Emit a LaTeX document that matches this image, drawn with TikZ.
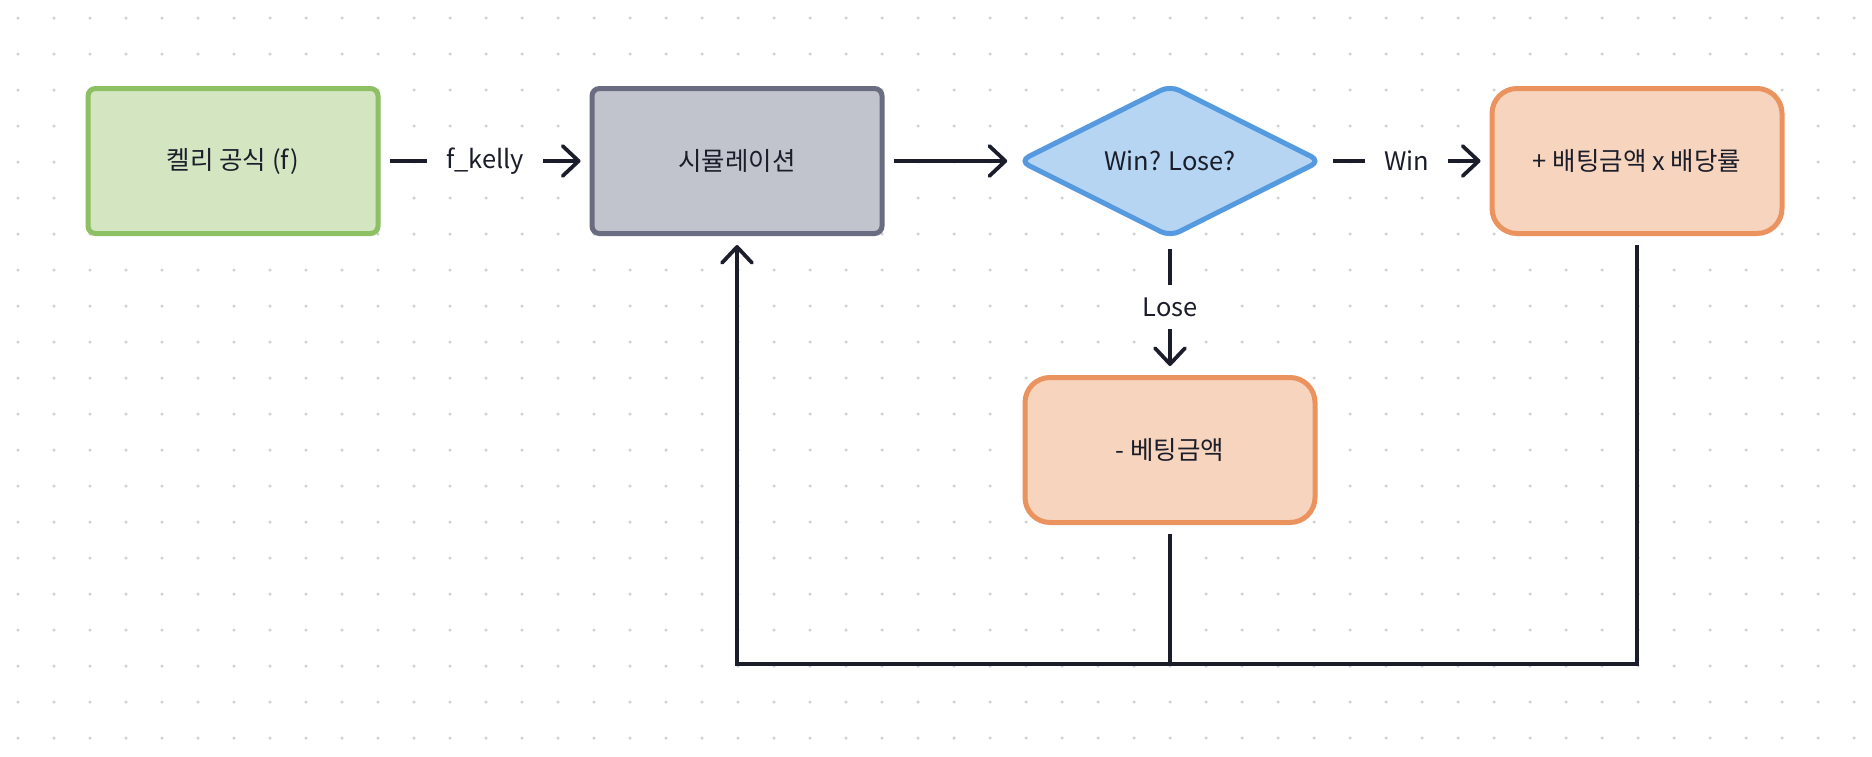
\documentclass[tikz,border=0pt]{standalone}
\usepackage{fontspec}
\setmainfont{Noto Sans CJK KR}
\usepackage{xcolor}
\usetikzlibrary{arrows.meta,shapes.geometric,positioning}

\definecolor{ink}{HTML}{1B1D2A}
\definecolor{griddot}{HTML}{D2D2D2}
\definecolor{kellyfill}{HTML}{D3E6C1}
\definecolor{kellyline}{HTML}{8CC063}
\definecolor{simfill}{HTML}{C1C4CC}
\definecolor{simline}{HTML}{6A6D82}
\definecolor{judgefill}{HTML}{B5D5F2}
\definecolor{judgeline}{HTML}{559AE1}
\definecolor{payfill}{HTML}{F6D4BD}
\definecolor{payline}{HTML}{EB935F}

\begin{document}
\begin{tikzpicture}[
  font=\fontsize{14.5}{17}\selectfont,
  box/.style={draw, line width=0.1cm, minimum width=5.8cm, minimum height=2.9cm, align=center, text=ink},
  flow/.style={line width=0.075cm, draw=ink, shorten <=0.18cm, shorten >=0.18cm},
  tip/.style={-{Straight Barb[round, length=0.32cm, width=0.6cm]}},
  lbl/.style={fill=white, inner xsep=0.38cm, inner ysep=0.25cm, text=ink}
]

% Canvas and dot grid
\useasboundingbox (0,0) rectangle (37.44,-15.12);
\fill[white] (0,0) rectangle (37.44,-15.12);
\foreach \i in {0,...,51}
  \foreach \j in {0,...,20}
    \fill[griddot] (0.36+0.72*\i,-0.36-0.72*\j) circle (0.035cm);

% Kelly formula
\node[box, fill=kellyfill, draw=kellyline, rounded corners=0.15cm] (kelly) at (4.66,-3.22) {켈리 공식 (f)};

% Simulation
\node[box, fill=simfill, draw=simline, rounded corners=0.15cm] (sim) at (14.74,-3.22) {시뮬레이션};

% Decision
\node[box, diamond, fill=judgefill, draw=judgeline, rounded corners=0.2cm, minimum width=6.05cm, minimum height=3.05cm, inner sep=0pt] (judge) at (23.4,-3.22) {Win? Lose?};

% Outcomes
\node[box, fill=payfill, draw=payline, rounded corners=0.5cm] (win) at (32.74,-3.22) {+ 배팅금액 x 배당률};
\node[box, fill=payfill, draw=payline, rounded corners=0.5cm] (lose) at (23.4,-9.0) {- 베팅금액};

% Feedback junction
\coordinate (back) at (23.4,-13.28);

% Connectors
\draw[flow, tip] (kelly) -- node[lbl] {f\_kelly} (sim);
\draw[flow, tip] (sim) -- (judge);
\draw[flow, tip] (judge) -- node[lbl] {Win} (win);
\draw[flow, tip] (judge) -- node[lbl] {Lose} (lose);

% Back to the simulation
\draw[flow, tip, line join=miter] (win.south) |- (back) -| (sim.south);
\draw[flow, shorten >=0cm] (lose.south) -- (back);

\end{tikzpicture}
\end{document}
